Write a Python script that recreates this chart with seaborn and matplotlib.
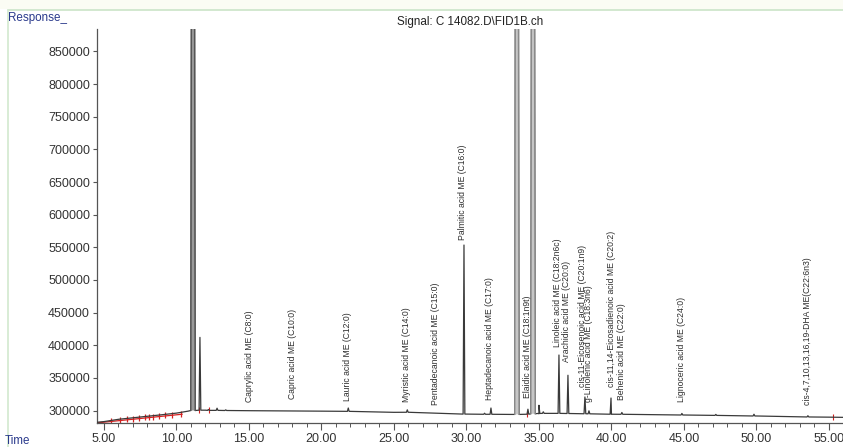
import numpy as np
import pandas as pd
import matplotlib
matplotlib.use("Agg")
import matplotlib.pyplot as plt
from matplotlib.lines import Line2D
from matplotlib.patches import Rectangle
from matplotlib.ticker import MultipleLocator
import seaborn as sns

# ---- FID signal: baseline drift (min, response) ----
baseline_time = [4.52, 5.0, 6.0, 7.5, 9.0, 10.0, 10.8, 12.0, 15.0, 20.0,
                 25.0, 30.0, 33.0, 35.0, 40.0, 45.0, 50.0, 55.0, 56.0]
baseline_resp = [282000, 283000, 286500, 290000, 293500, 296000, 299000,
                 300500, 299700, 299000, 297200, 294500, 294000, 295000,
                 294200, 293100, 291600, 289800, 289500]

# ---- on-scale peaks: retention time, apex, local base ----
peak_time = [11.62, 12.2, 12.8, 13.4, 21.85, 25.92, 29.83, 31.25, 31.69,
             34.24, 35.0, 35.3, 36.38, 37.0, 38.17, 38.45, 39.97, 40.72,
             44.86, 47.2, 49.83, 53.55]
peak_apex = [412000, 301500, 303500, 301000, 303800, 301000, 553500, 295800,
             303800, 302000, 308000, 298000, 385000, 354000, 320700, 299500,
             319100, 297000, 295500, 294000, 294300, 292000]
peak_base = [300500, 300200, 300200, 300000, 298700, 297300, 294500, 294200,
             294200, 294300, 295500, 295600, 295600, 295400, 295000, 294900,
             294300, 294200, 293100, 292500, 291600, 290100]

# ---- off-scale peaks (solvent / major components) ----
offscale_time = [11.14, 33.48, 34.59]
offscale_apex = [2600000, 2600000, 2600000]
offscale_base = [300000, 294000, 295000]

# ---- compound annotations ----
label_text = [
    "Caprylic acid ME (C8:0)",
    "Capric acid ME (C10:0)",
    "Lauric acid ME (C12:0)",
    "Myristic acid ME (C14:0)",
    "Pentadecanoic acid ME (C15:0)",
    "Palmitic acid ME (C16:0)",
    "Heptadecanoic acid ME (C17:0)",
    "Elaidic acid ME (C18:1n9t)",
    "Linoleic acid ME (C18:2n6c)",
    "Arachidic acid ME (C20:0)",
    "cis-11-Eicosenoic acid ME (C20:1n9)",
    "g-Linolenic acid ME (C18:3n6)",
    "cis-11,14-Eicosadienoic acid ME (C20:2)",
    "Behenic acid ME (C22:0)",
    "Lignoceric acid ME (C24:0)",
    "cis-4,7,10,13,16,19-DHA ME(C22:6n3)",
]
label_time = [15.07, 18.03, 21.83, 25.90, 27.90, 29.76, 31.62, 34.24, 36.31,
              36.93, 38.03, 38.40, 40.03, 40.72, 44.86, 53.55]
label_resp = [313000, 317600, 314500, 313000, 308400, 561200, 316100, 319100,
              397300, 374300, 336000, 313000, 336000, 316100, 313000, 308400]

# integration marks along the early baseline
integ_time = [5.5, 6.1, 6.6, 7.0, 7.4, 7.8, 8.1, 8.4, 8.8, 9.2, 9.7, 10.3]

TRACE = "#3a3a3a"
HALF_W = 0.06
HALF_W_BIG = 0.15
BIG_EDGE = ["#555555", "#8a8a8a", "#8a8a8a"]
BIG_FILL = ["#9a9a9a", "#c6c6c6", "#c6c6c6"]

# assemble the chromatogram polyline
t_pts = list(baseline_time)
r_pts = list(baseline_resp)
for t, a, b in zip(peak_time, peak_apex, peak_base):
    t_pts += [t - HALF_W, t, t + HALF_W]
    r_pts += [b, a, b]
for t, a, b in zip(offscale_time, offscale_apex, offscale_base):
    t_pts += [t - HALF_W_BIG, t, t + HALF_W_BIG]
    r_pts += [b, a, b]
trace = pd.DataFrame({"time": t_pts, "response": r_pts}).sort_values("time")

sns.set_style("ticks")
plt.rcParams["font.family"] = ["Liberation Sans", "DejaVu Sans"]

fig = plt.figure(figsize=(8.43, 4.47), dpi=100)
fig.patch.set_facecolor("white")

# window frame
fig.add_artist(Rectangle((0, 1 - 9 / 447), 1, 9 / 447, transform=fig.transFigure,
                         facecolor="#fbfcf4", edgecolor="none", zorder=0))
fig.add_artist(Line2D([8 / 843, 1], [1 - 9.5 / 447] * 2, transform=fig.transFigure,
                      color="#cfe6cc", lw=1.3))
fig.add_artist(Line2D([8 / 843] * 2, [0, 1 - 9.5 / 447], transform=fig.transFigure,
                      color="#d5ead2", lw=1.3))

ax = fig.add_axes([97 / 843, 24 / 447, 746 / 843, 394 / 447])

sns.lineplot(data=trace, x="time", y="response", estimator=None, sort=True,
             color=TRACE, linewidth=0.9, ax=ax, zorder=3)

# grey body and outline of the off-scale peaks
for t, a, b, ec, fc in zip(offscale_time, offscale_apex, offscale_base,
                           BIG_EDGE, BIG_FILL):
    xs = [t - HALF_W_BIG, t, t + HALF_W_BIG]
    ys = [b, a, b]
    ax.fill_between(xs, ys, b, color=fc, lw=0, zorder=4)
    ax.plot(xs, ys, color=ec, lw=1.0, zorder=5)

# integration baseline (red)
ax.plot([4.6, 10.4], [281200, 294300], color="#d42020", lw=0.9, zorder=2)
ib = np.interp(integ_time, [4.6, 10.4], [281200, 294300])
ax.scatter(integ_time, ib + 900, marker="|", s=18, color="#d42020", lw=0.9, zorder=2)
ax.scatter([11.55, 12.25, 34.2, 55.3], [300300, 300300, 294700, 289900],
           marker="|", s=14, color="#d42020", lw=0.8, zorder=2)

for txt, t, r in zip(label_text, label_time, label_resp):
    ax.text(t, r, txt, rotation=90, ha="center", va="bottom",
            fontsize=6.2, color="#2e2e2e")

ax.set_xlim(4.52, 55.97)
ax.set_ylim(280850, 884470)
ax.set_xlabel("")
ax.set_ylabel("")
ax.xaxis.set_minor_locator(MultipleLocator(1))
ax.set_xticks(np.arange(5, 56, 5))
ax.set_xticklabels([f"{v:.2f}" for v in np.arange(5, 56, 5)])
ax.set_yticks(np.arange(300000, 850001, 50000))
ax.set_yticklabels([str(v) for v in range(300000, 850001, 50000)])
ax.tick_params(axis="x", which="major", length=5, width=0.8, color="#555555",
               labelsize=9, labelcolor="#333333", pad=2)
ax.tick_params(axis="x", which="minor", length=3, width=0.7, color="#555555")
ax.tick_params(axis="y", which="major", length=3, width=0.8, color="#555555",
               labelsize=9, labelcolor="#333333", pad=2)
for s in ("top", "right"):
    ax.spines[s].set_visible(False)
for s in ("left", "bottom"):
    ax.spines[s].set_color("#555555")
    ax.spines[s].set_linewidth(0.9)
ax.set_facecolor("white")

fig.text(470 / 843, 1 - 22 / 447, "Signal: C 14082.D\\FID1B.ch", ha="center",
         va="center", fontsize=8.4, color="#222222")
fig.text(8 / 843, 1 - 18 / 447, "Response_", ha="left", va="center",
         fontsize=8.4, color="#2a3a8c")
fig.text(5 / 843, 1 - 441 / 447, "Time", ha="left", va="center",
         fontsize=8.4, color="#2a3a8c")

fig.savefig("out.png", dpi=100)
